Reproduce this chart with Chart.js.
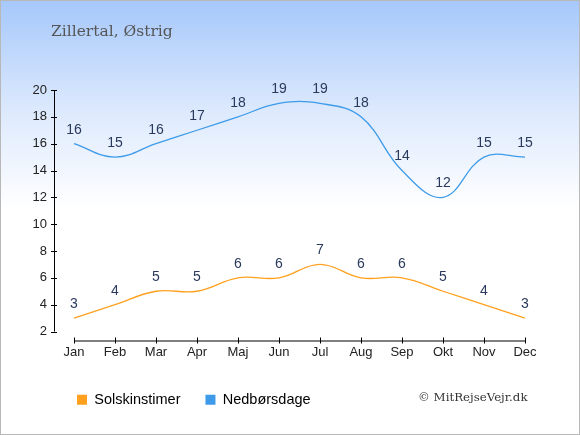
<!DOCTYPE html>
<html>
<head>
<meta charset="utf-8">
<script src="https://cdn.jsdelivr.net/npm/chart.js@4/dist/chart.umd.min.js"></script>
<style>
  html, body { margin: 0; padding: 0; }
  #wrap {
    position: relative;
    width: 578px; height: 433px;
    border: 1px solid #b8b8b8;
    background: linear-gradient(to bottom, #a6c8fb 0%, #dce9fd 25%, #ffffff 48%, #ffffff 100%);
    overflow: hidden;
  }
  #chart { position: absolute; left: -1px; top: -1px; }
  .title {
    position: absolute; left: 50px; top: 21px;
    font-family: "DejaVu Serif", "Liberation Serif", serif;
    font-size: 15.5px; color: #555;
  }
  .copy {
    position: absolute; left: 417px; top: 389px;
    font-family: "DejaVu Serif", "Liberation Serif", serif;
    font-size: 11.8px; color: #333;
  }
</style>
</head>
<body>
<div id="wrap">
  <canvas id="chart" width="580" height="435"></canvas>
  <div class="title">Zillertal, Østrig</div>
  <div class="copy">© MitRejseVejr.dk</div>
</div>
<script>
const months = ['Jan', 'Feb', 'Mar', 'Apr', 'Maj', 'Jun', 'Jul', 'Aug', 'Sep', 'Okt', 'Nov', 'Dec'];
const sunHours = [3, 4, 5, 5, 6, 6, 7, 6, 6, 5, 4, 3];
const rainDays = [16, 15, 16, 17, 18, 19, 19, 18, 14, 12, 15, 15];
const yTicks = [2, 4, 6, 8, 10, 12, 14, 16, 18, 20];

const orange = '#ffa11f';
const blue = '#3d9be9';

// axis lines drawn detached from the plot area, like the original
const axesPlugin = {
    id: 'detachedAxes',
    afterLayout(chart) {
        // push the legend right so it starts under the axis
        chart.legend.left += 52;
        chart.legend.right += 52;
    },
    afterDraw(chart) {
        const ctx = chart.ctx;
        const xs = chart.scales.x;
        const ys = chart.scales.y;
        const axX = chart.chartArea.left - 20;
        const axY = chart.chartArea.bottom + 9;
        ctx.save();
        ctx.strokeStyle = '#000';
        ctx.lineWidth = 1;
        ctx.beginPath();
        ctx.moveTo(axX + 0.5, ys.getPixelForValue(20));
        ctx.lineTo(axX + 0.5, ys.getPixelForValue(2));
        yTicks.forEach(v => {
            const y = Math.round(ys.getPixelForValue(v)) + 0.5;
            ctx.moveTo(axX - 3, y);
            ctx.lineTo(axX + 3, y);
        });
        ctx.moveTo(xs.getPixelForValue(0), axY + 0.5);
        ctx.lineTo(xs.getPixelForValue(months.length - 1), axY + 0.5);
        months.forEach((m, i) => {
            const x = Math.round(xs.getPixelForValue(i)) + 0.5;
            ctx.moveTo(x, axY - 3);
            ctx.lineTo(x, axY + 3);
        });
        ctx.stroke();

        // value labels above each point
        ctx.fillStyle = '#2a3a5c';
        ctx.font = '14px "Liberation Sans", Arial, sans-serif';
        ctx.textAlign = 'center';
        ctx.textBaseline = 'middle';
        chart.data.datasets.forEach((ds, di) => {
            chart.getDatasetMeta(di).data.forEach((pt, i) => {
                ctx.fillText(String(ds.data[i]), pt.x, pt.y - 14);
            });
        });
        ctx.restore();
    }
};

new Chart(document.getElementById('chart'), {
    type: 'line',
    data: {
        labels: months,
        datasets: [{
            label: 'Solskinstimer',
            data: sunHours,
            borderColor: orange,
            backgroundColor: orange,
            borderWidth: 1.3,
            tension: 0.4,
            pointRadius: 0
        }, {
            label: 'Nedbørsdage',
            data: rainDays,
            borderColor: blue,
            backgroundColor: blue,
            borderWidth: 1.3,
            tension: 0.4,
            pointRadius: 0
        }]
    },
    options: {
        responsive: false,
        animation: false,
        layout: { padding: { top: 90, right: 55, left: 0, bottom: 18 } },
        plugins: {
            tooltip: { enabled: false },
            legend: {
                position: 'bottom',
                align: 'start',
                labels: {
                    boxWidth: 10,
                    boxHeight: 10,
                    padding: 25,
                    color: '#222',
                    font: { family: '"Liberation Sans", Arial, sans-serif', size: 14.5 },
                    generateLabels(chart) {
                        return chart.data.datasets.map((ds, i) => ({
                            text: ds.label,
                            fillStyle: ds.borderColor,
                            strokeStyle: ds.borderColor,
                            lineWidth: 0,
                            datasetIndex: i
                        }));
                    }
                }
            }
        },
        scales: {
            x: {
                offset: false,
                border: { display: false },
                grid: { display: false, drawTicks: false },
                ticks: {
                    padding: 13,
                    color: '#222',
                    font: { family: '"Liberation Sans", Arial, sans-serif', size: 13 }
                },
                afterFit(scale) { scale.height = 36; }
            },
            y: {
                min: 2,
                max: 20,
                border: { display: false },
                grid: { display: false, drawTicks: false },
                afterBuildTicks(scale) { scale.ticks = yTicks.map(v => ({ value: v })); },
                ticks: {
                    padding: 27,
                    color: '#222',
                    font: { family: '"Liberation Sans", Arial, sans-serif', size: 13 }
                },
                afterFit(scale) { scale.width = 74; }
            }
        }
    },
    plugins: [axesPlugin]
});
</script>
</body>
</html>
